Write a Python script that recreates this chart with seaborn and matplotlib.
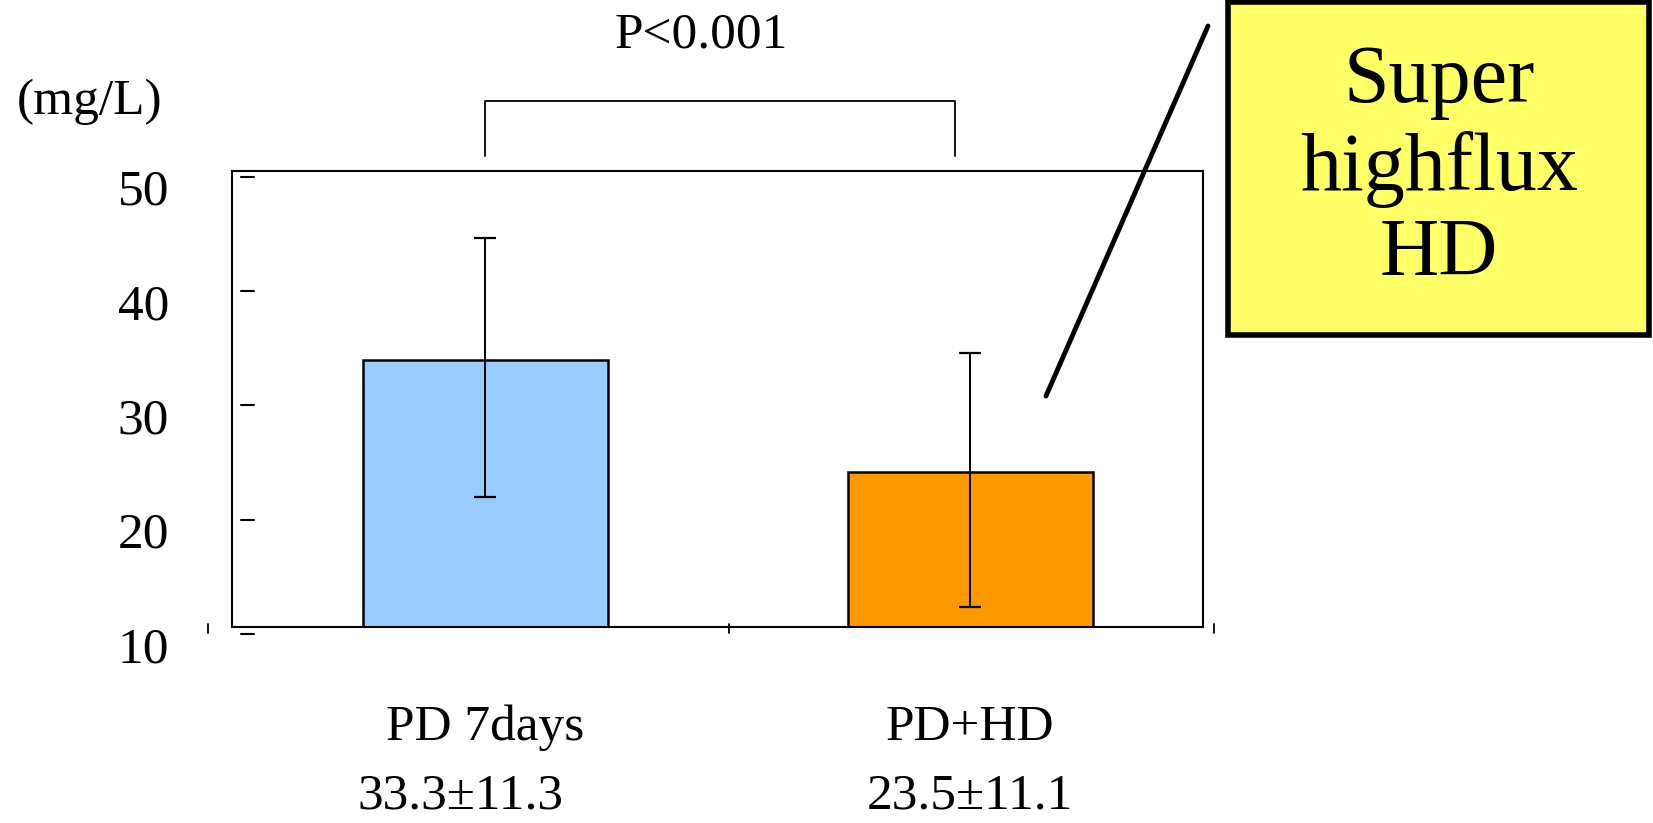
import matplotlib
matplotlib.use("Agg")
import matplotlib.pyplot as plt
import matplotlib.transforms as mtransforms
from matplotlib.patches import Rectangle
from matplotlib.lines import Line2D
import seaborn as sns
import pandas as pd

# ---- data ----
categories = ["PD 7days", "PD+HD"]
bar_heights = [34.0, 24.2]          # bar tops as drawn
means = [33.3, 23.5]                # error bar centres
sds = [11.3, 11.1]
stat_labels = ["33.3\u00b111.3", "23.5\u00b111.1"]
bar_colors = ["#99CCFF", "#FF9900"]
ytick_values = [10, 20, 30, 40, 50]
ytick_labels = ["10", "20", "30", "40", "50"]
unit_label = "(mg/L)"
p_label = "P<0.001"
callout_text = "Super\nhighflux\nHD"

sns.set_style("white")
plt.rcParams["font.family"] = ["Liberation Serif", "DejaVu Serif"]
plt.rcParams["text.color"] = "black"
plt.rcParams["xtick.color"] = "black"
plt.rcParams["ytick.color"] = "black"
plt.rcParams["xtick.labelcolor"] = "black"
plt.rcParams["ytick.labelcolor"] = "black"

W, H = 1653, 823
fig = plt.figure(figsize=(W / 100, H / 100), dpi=100)
ax = fig.add_axes([232 / W, 1 - 626.7 / H, (1203 - 232) / W, (626.7 - 170.7) / H])

df = pd.DataFrame({"cat": categories, "val": bar_heights})
sns.barplot(data=df, x="cat", y="val", hue="cat", palette=bar_colors, saturation=1,
            width=0.505, edgecolor="black", linewidth=1.8, errorbar=None,
            legend=False, ax=ax)
ax.errorbar(x=[0, 1], y=means, yerr=sds, fmt="none", ecolor="black",
            elinewidth=1.4, capsize=8, capthick=1.6, zorder=3)

ax.set_xlim(-0.522, 1.48)
ax.set_ylim(10.64, 50.52)
ax.set_xlabel("")
ax.set_ylabel("")
for s in ax.spines.values():
    s.set_visible(True)
    s.set_color("black")
    s.set_linewidth(1.5)

# x tick labels (category names)
ax.set_xticks([0, 1])
ax.set_xticklabels(categories, fontsize=37, color="black")
ax.tick_params(axis="x", length=0, pad=56)
ax.set_yticks([])

# stat labels under the categories
for i, lab in enumerate(stat_labels):
    ax.text(i - 0.05 if i == 0 else i, 0, lab, fontsize=37, ha="center", va="center",
            color="black",
            transform=mtransforms.offset_copy(ax.get_xaxis_transform(), fig=fig, y=-170, units="dots"))

# y ticks (drawn inset from spine) and labels
ytr = ax.get_yaxis_transform()
for v, lab in zip(ytick_values, ytick_labels):
    ax.plot([0.009, 0.0227], [v, v], color="black", lw=1.5, transform=ytr, clip_on=False)
    ax.text(-0.065, v, lab, fontsize=37, ha="right", va="center", color="black",
            transform=mtransforms.offset_copy(ytr, fig=fig, y=-16, units="dots"))

# stray x tick marks
xtr = ax.get_xaxis_transform()
for xv in [-0.572, 0.503, 1.503]:
    ax.plot([xv, xv], [0.006, -0.014], color="black", lw=1.3, transform=xtr, clip_on=False)

# significance bracket
ax.plot([0, 0, 0.968, 0.968], [1.032, 1.153, 1.153, 1.032], color="black", lw=1.3,
        transform=xtr, clip_on=False)
fig.text(701 / W, 1 - 35 / H, p_label, fontsize=37, ha="center", va="center", color="black")
fig.text(90 / W, 1 - 102 / H, unit_label, fontsize=37, ha="center", va="center", color="black")

# callout box
fig.add_artist(Rectangle((1228 / W, 1 - 335 / H), (1649 - 1228) / W, (335 - 2) / H,
                         transform=fig.transFigure, facecolor="#FFFF66",
                         edgecolor="black", linewidth=4))
fig.text(1439 / W, 1 - 169 / H, callout_text, fontsize=59, ha="center", va="center",
         linespacing=1.18, color="black")
fig.add_artist(Line2D([1208 / W, 1046 / W], [1 - 26 / H, 1 - 396 / H],
                      transform=fig.transFigure, color="black", lw=3.5))

fig.savefig("out.png", dpi=100)
